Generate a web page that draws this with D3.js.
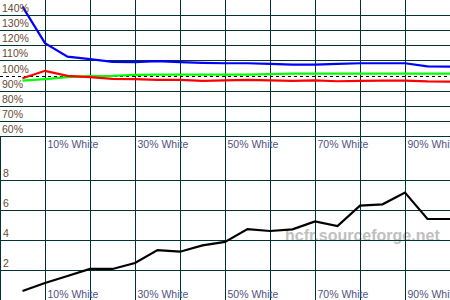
<!DOCTYPE html>
<html><head><meta charset="utf-8">
<script src="https://cdn.jsdelivr.net/npm/d3@7"></script>
<style>body{margin:0;background:#fff}svg{display:block}</style>
</head><body>
<svg id="c" width="450" height="300"></svg>
<script>
const whiteLevels = [5,10,15,20,25,30,35,40,45,50,55,60,65,70,75,80,85,90,95,100];
const blueVals  = [145.6,121.4,112.5,110.8,109.0,108.9,109.5,108.8,108.3,108.1,108.1,107.7,107.2,107.2,107.7,108.1,108.1,108.1,106.1,105.9];
const redVals   = [98.2,103.1,99.8,98.9,97.8,97.6,97.1,97.1,96.5,96.8,97.1,96.8,96.5,96.8,96.2,96.5,96.6,96.6,96.1,96.0];
const greenVals = [96.6,97.6,98.9,99.6,99.8,100.4,100.6,100.6,100.6,100.6,100.6,100.9,101.3,101.3,101.3,101.3,101.3,101.3,101.3,101.3];
const deltaE    = [0.6,1.13,1.6,2.07,2.07,2.47,3.33,3.22,3.64,3.87,4.73,4.6,4.71,5.24,4.93,6.29,6.38,7.16,5.4,5.4];
const pctTicks  = [140,130,120,110,90,80,70,60];
const pctLabels = ["140%","130%","120%","110%","100%","90%","80%","70%","60%"];
const pctLabelVals = [140,130,120,110,100,90,80,70,60];
const deTicks   = [8,6,4,2];
const xGrid     = [10,20,30,40,50,60,70,80,90];
const xLabelVals = [10,30,50,70,90];
const xLabels   = ["10% White","30% White","50% White","70% White","90% White"];
const watermark = "hcfr.sourceforge.net";

const svg = d3.select("#c");
const W = 450, H = 300;
const x = d3.scaleLinear().domain([0,100]).range([0,W]);
const yTop = d3.scaleLinear().domain([50,150]).range([151,0]);
const yBot = d3.scaleLinear().domain([0,10]).range([300,150]);
const gridCol = "#003333";
const crisp = v => Math.round(v) + 0.5;

svg.append("rect").attr("width",W).attr("height",H).attr("fill","#fff");

// watermark
svg.append("text").attr("x",285).attr("y",241)
  .attr("font-family","Liberation Sans, Arial, sans-serif").attr("font-weight","bold")
  .attr("font-size",16).attr("fill","#c0c0c0").text(watermark);

// grid
const g = svg.append("g").attr("stroke",gridCol).attr("stroke-width",1);
g.selectAll("line.v").data(xGrid).join("line").attr("class","v")
  .attr("x1",d=>crisp(x(d))).attr("x2",d=>crisp(x(d))).attr("y1",0).attr("y2",H);
g.append("line").attr("x1",0.5).attr("x2",0.5).attr("y1",crisp(yTop(60))).attr("y2",H);
g.selectAll("line.ht").data(pctTicks).join("line").attr("class","ht")
  .attr("x1",0).attr("x2",W).attr("y1",d=>crisp(yTop(d))).attr("y2",d=>crisp(yTop(d)));
g.selectAll("line.hb").data(deTicks).join("line").attr("class","hb")
  .attr("x1",0).attr("x2",W).attr("y1",d=>crisp(yBot(d))).attr("y2",d=>crisp(yBot(d)));

// 100% reference dashed
svg.append("line").attr("x1",0).attr("x2",W)
  .attr("y1",crisp(yTop(100))).attr("y2",crisp(yTop(100)))
  .attr("stroke","#000").attr("stroke-width",1).attr("stroke-dasharray","3,3");

// lines
const lineTop = vals => d3.line().x((d,i)=>x(whiteLevels[i])).y(d=>yTop(d))(vals);
[[greenVals,"#00ff00"],[redVals,"#ff0000"],[blueVals,"#0000ff"]].forEach(([v,c])=>{
  svg.append("path").attr("d",lineTop(v)).attr("fill","none").attr("stroke",c).attr("stroke-width",2.2);
});
svg.append("path").attr("d", d3.line().x((d,i)=>x(whiteLevels[i])).y(d=>yBot(d))(deltaE))
  .attr("fill","none").attr("stroke","#000").attr("stroke-width",2.2);

// labels
const font = "Liberation Sans, Arial, sans-serif";
svg.selectAll("text.yl").data(pctLabelVals).join("text").attr("class","yl")
  .attr("x",2).attr("y",d=>Math.round(yTop(d))-3)
  .attr("font-family",font).attr("font-size",10.5).attr("fill","#664a32")
  .text((d,i)=>pctLabels[i]);
svg.selectAll("text.yb").data(deTicks).join("text").attr("class","yb")
  .attr("x",3).attr("y",d=>Math.round(yBot(d))-3)
  .attr("font-family",font).attr("font-size",10.5).attr("fill","#664a32")
  .text(d=>d);
[148,298].forEach(by=>{
  svg.append("g").selectAll("text").data(xLabelVals).join("text")
    .attr("x",d=>x(d)+2.5).attr("y",by)
    .attr("font-family",font).attr("font-size",10.5).attr("fill","#505280")
    .text((d,i)=>xLabels[i]);
});
</script>
</body></html>
